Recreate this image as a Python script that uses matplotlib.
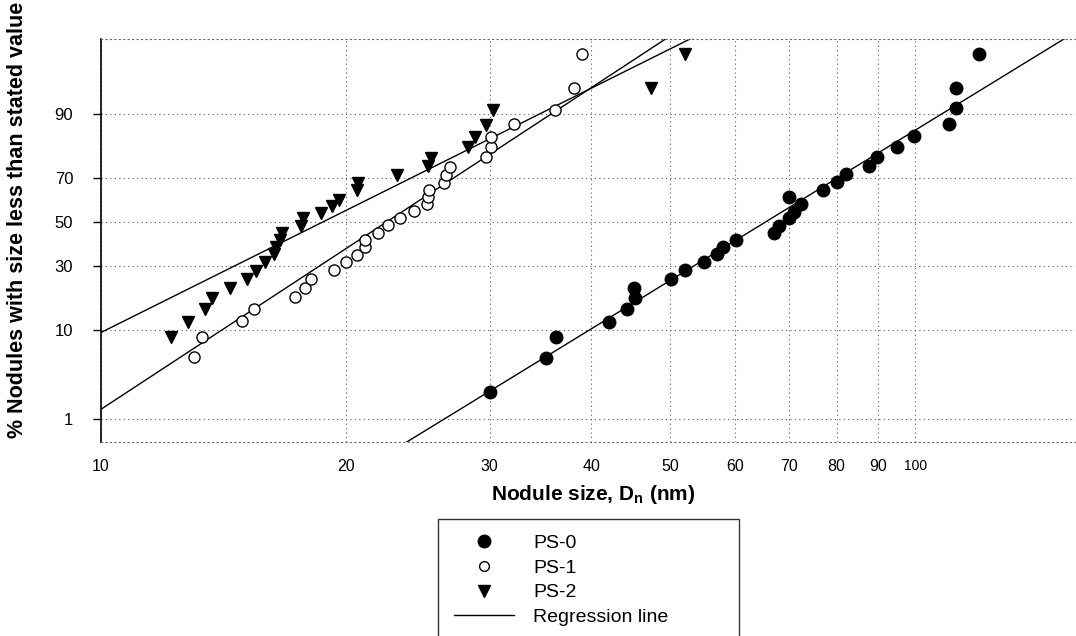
import numpy as np
import matplotlib
matplotlib.use("Agg")
import matplotlib.pyplot as plt
from matplotlib.lines import Line2D
from matplotlib.ticker import NullLocator
from statistics import NormalDist

# nodule size (nm) and cumulative %
ps0_size = [30.0, 35.2, 36.2, 42.1, 44.2, 45.2, 45.1, 50.1, 52.1, 55.0,
            57.0, 58.0, 60.2, 67.1, 67.9, 70.0, 71.0, 72.3, 70.0, 76.9,
            80.0, 82.1, 87.8, 89.8, 95.0, 99.7, 109.8, 112.0, 112.0, 119.8]
ps0_pct = [2.2, 5.4, 8.7, 11.8, 15.2, 18.4, 21.7, 25.0, 28.5, 31.8,
           35.2, 38.4, 41.6, 44.8, 48.1, 51.9, 54.7, 58.4, 61.6, 64.8,
           68.2, 71.5, 74.6, 77.9, 81.3, 84.6, 87.7, 91.1, 94.4, 97.7]

ps1_size = [13.0, 13.3, 14.9, 15.4, 17.3, 17.8, 18.1, 19.3, 20.0, 20.6,
            21.1, 21.1, 21.9, 22.5, 23.3, 24.2, 25.1, 25.2, 25.3, 26.4,
            26.5, 26.8, 29.7, 30.1, 30.1, 32.1, 36.1, 38.1, 39.0]
ps1_pct = [5.5, 8.7, 12.1, 15.2, 18.7, 21.7, 25.0, 28.5, 31.8, 34.8,
           38.4, 41.6, 44.8, 48.6, 51.9, 55.2, 58.4, 61.6, 64.8, 67.8,
           71.1, 74.2, 77.9, 81.3, 84.3, 87.7, 90.9, 94.4, 97.7]

ps2_size = [12.2, 12.8, 13.4, 13.7, 14.4, 15.1, 15.5, 15.9, 16.3, 16.4,
            16.6, 16.7, 17.6, 17.7, 18.6, 19.2, 19.6, 20.6, 20.7, 23.1,
            25.2, 25.4, 28.2, 28.8, 29.7, 30.3, 47.4, 52.1]
ps2_pct = [8.7, 11.8, 15.2, 18.4, 21.7, 25.0, 28.1, 31.8, 35.2, 38.4,
           41.6, 44.8, 48.1, 51.9, 54.2, 57.5, 60.3, 64.8, 67.8, 71.1,
           74.6, 77.5, 81.3, 84.3, 87.4, 90.9, 94.4, 97.7]

# regression lines: median size (nm) and log10 standard deviation
reg_median = [65.4, 22.4, 18.7]
reg_sigma = [0.169, 0.158, 0.208]

x_ticks = [10, 20, 30, 40, 50, 60, 70, 80, 90, 100]
y_ticks = [1, 10, 30, 50, 70, 90]

nd = NormalDist()


def _ppf1(p):
    if not np.isfinite(p):
        return np.nan
    return nd.inv_cdf(min(max(p, 1e-9), 1 - 1e-9))


_ppf = np.vectorize(_ppf1, otypes=[float])
_cdf = np.vectorize(nd.cdf, otypes=[float])


def prob_fwd(p):
    return _ppf(np.asarray(p, dtype=float) / 100.0)


def prob_inv(z):
    return _cdf(np.asarray(z, dtype=float)) * 100.0


plt.rcParams["font.family"] = ["Liberation Sans", "DejaVu Sans"]
plt.rcParams["mathtext.fontset"] = "custom"
plt.rcParams["mathtext.bf"] = "Liberation Sans:bold"
plt.rcParams["mathtext.rm"] = "Liberation Sans"

fig = plt.figure(figsize=(10.76, 6.36), dpi=100)
ax = fig.add_axes([101 / 1076, 1 - 442 / 636, 974 / 1076, 403 / 636])

ax.set_xscale("log")
ax.set_yscale("function", functions=(prob_fwd, prob_inv))
ax.set_xlim(10, 157)
ax.set_ylim(0.46, 98.5)

xs = np.geomspace(10, 157, 200)
for med, sig in zip(reg_median, reg_sigma):
    z = (np.log10(xs) - np.log10(med)) / sig
    ax.plot(xs, prob_inv(z), color="black", lw=1.0, zorder=2)

ax.plot(ps0_size, ps0_pct, "o", ms=9, mfc="black", mec="black", ls="none", zorder=3)
ax.plot(ps1_size, ps1_pct, "o", ms=8, mfc="white", mec="black", mew=1.0, ls="none", zorder=3)
ax.plot(ps2_size, ps2_pct, "v", ms=9, mfc="black", mec="black", ls="none", zorder=3)

ax.set_xticks(x_ticks)
ax.set_xticklabels([str(v) for v in x_ticks])
ax.xaxis.set_minor_locator(NullLocator())
ax.set_yticks(y_ticks)
ax.set_yticklabels([str(v) for v in y_ticks])
ax.yaxis.set_minor_locator(NullLocator())

ax.tick_params(axis="x", length=0, pad=12, labelsize=11.5)
ax.tick_params(axis="y", length=6, width=1, pad=14, labelsize=12, direction="out")
# the "100" label is printed a little smaller
ax.get_xticklabels()[-1].set_fontsize(10)

ax.grid(True, which="major", ls=(0, (1, 3)), color="0.35", lw=0.8)
ax.spines["right"].set_visible(False)
ax.spines["top"].set_linestyle((0, (1, 3)))
ax.spines["top"].set_color("0.4")
ax.spines["bottom"].set_linestyle((0, (1, 3)))
ax.spines["bottom"].set_color("0.4")
ax.spines["left"].set_linewidth(1.2)

fig.text(593 / 1076, 1 - 494 / 636, r"Nodule size, $\mathbf{D_n}$ (nm)",
         ha="center", va="center", fontsize=15, fontweight="bold")
fig.text(18 / 1076, 1 - 220 / 636, "% Nodules with size less than stated value",
         ha="center", va="center", rotation=90, fontsize=15.5, fontweight="bold")

handles = [
    Line2D([], [], marker="o", ms=9, mfc="black", mec="black", ls="none"),
    Line2D([], [], marker="o", ms=7, mfc="white", mec="black", ls="none"),
    Line2D([], [], marker="v", ms=9, mfc="black", mec="black", ls="none"),
    Line2D([], [], color="black", lw=1.0),
]
labels = ["PS-0", "PS-1", "PS-2", "Regression line"]
leg = fig.legend(handles, labels, loc="upper left", mode="expand",
                 bbox_to_anchor=(438 / 1076, 0, 301 / 1076, 1 - 519 / 636),
                 frameon=True, fancybox=False, edgecolor="black",
                 fontsize=14, handlelength=3.1, handletextpad=1.0,
                 borderpad=0.8, labelspacing=0.36, borderaxespad=0)
leg.get_frame().set_linewidth(1.0)

fig.savefig("out.png", dpi=100)
